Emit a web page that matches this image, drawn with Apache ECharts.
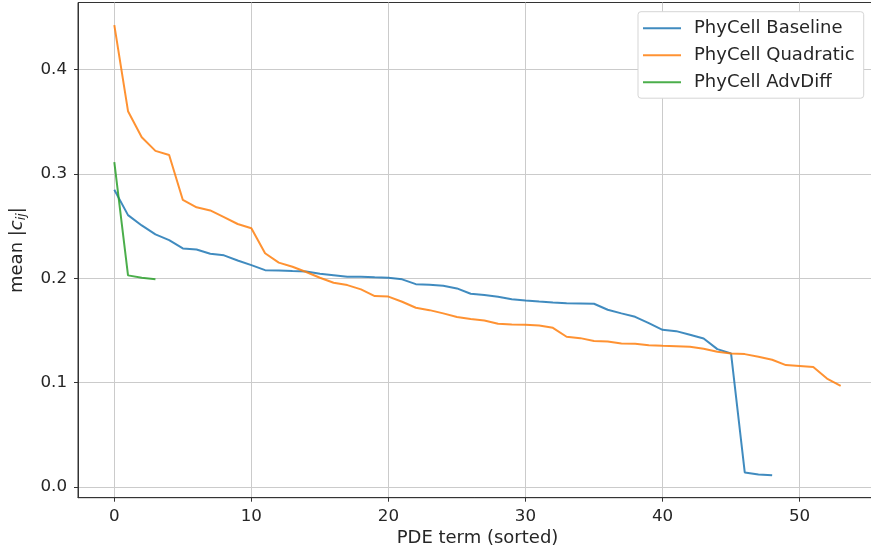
<!DOCTYPE html>
<html>
<head>
<meta charset="utf-8">
<script src="https://cdn.jsdelivr.net/npm/echarts@6/dist/echarts.min.js"></script>
<style>
html,body{margin:0;padding:0;background:#fff;}
#c{width:871px;height:554px;}
</style>
</head>
<body>
<div id="c"></div>
<script>
var seriesNames = ['PhyCell Baseline', 'PhyCell Quadratic', 'PhyCell AdvDiff'];
var baseline = [0.2848,0.2605,0.2506,0.242,0.2366,0.2286,0.2276,0.2235,0.222,0.2171,
  0.2126,0.2078,0.2075,0.207,0.2066,0.2043,0.203,0.2014,0.2014,0.2009,
  0.2005,0.199,0.1944,0.1938,0.1928,0.1903,0.1852,0.1839,0.1823,0.18,
  0.1788,0.1778,0.1769,0.1762,0.1759,0.1756,0.1699,0.1664,0.1631,0.1571,
  0.1507,0.1494,0.1459,0.1424,0.1322,0.128,0.0141,0.0122,0.0115];
var quadratic = [0.4425,0.360,0.335,0.322,0.318,0.275,0.268,0.265,0.2586,0.252,
  0.248,0.224,0.215,0.211,0.206,0.2005,0.1957,0.1935,0.1894,0.183,
  0.1825,0.1775,0.1718,0.1695,0.1664,0.163,0.161,0.1596,0.1565,0.1558,
  0.1555,0.1549,0.1526,0.144,0.1427,0.140,0.1395,0.1376,0.1373,0.136,
  0.1353,0.135,0.1344,0.1325,0.1296,0.128,0.1274,0.1248,0.122,0.1169,
  0.116,0.115,0.104,0.097];
var advdiff = [0.3113,0.2028,0.2005,0.1992];
var xTicks = [0, 10, 20, 30, 40, 50];
var yTicks = [0.0, 0.1, 0.2, 0.3, 0.4];
var colors = ['#1f77b4', '#ff7f0e', '#2ca02c'];

function pairs(arr){ return arr.map(function(v,i){ return [i, v]; }); }

var FONT = 'DejaVu Sans';
var TXT = '#262626';
var chart = echarts.init(document.getElementById('c'), null, {renderer:'canvas'});
var seriesData = [baseline, quadratic, advdiff];
var option = {
  animation: false,
  backgroundColor: '#ffffff',
  textStyle: {fontFamily: FONT},
  grid: {left: 78, top: 2.5, width: 799, height: 495.2, containLabel: false,
    outerBoundsMode: 'none',
    show: true, borderColor: '#333', borderWidth: 1, backgroundColor: 'transparent'},
  legend: {
    orient: 'vertical',
    left: 638, top: 11.7,
    data: seriesNames,
    icon: 'path://M0,0H38V2H0Z',
    symbolKeepAspect: true,
    itemWidth: 38, itemHeight: 14, itemGap: 9,
    padding: [7.5, 9, 7, 5],
    backgroundColor: '#ffffff',
    borderColor: '#d5d5d5', borderWidth: 1, borderRadius: 3,
    textStyle: {fontFamily: FONT, fontSize: 18, lineHeight: 18, color: TXT, padding: [0,0,0,8]}
  },
  xAxis: {
    type: 'value', min: -2.65, max: 55.65,
    name: 'PDE term (sorted)', nameLocation: 'middle', nameGap: 30,
    nameTextStyle: {fontFamily: FONT, fontSize: 18, color: TXT},
    axisLine: {show: true, onZero: false, lineStyle: {color: '#333', width: 1}},
    axisTick: {show: true, length: 4, customValues: xTicks, lineStyle: {color: '#333'}},
    axisLabel: {customValues: xTicks, fontFamily: FONT, fontSize: 16.7, color: TXT, margin: 10,
      formatter: function(v){ return String(v); }},
    splitLine: {show: true, lineStyle: {color: '#cbcbcb', width: 1}}
  },
  yAxis: {
    type: 'value', min: -0.0101, max: 0.4641,
    name: '{n|mean }{n||}{i|c}{s|ij}{n||}', nameLocation: 'middle', nameGap: 50,
    nameTextStyle: {
      fontFamily: FONT, fontSize: 18, color: TXT,
      rich: {
        n: {fontFamily: FONT, fontSize: 18, color: TXT, lineHeight: 22},
        i: {fontFamily: FONT, fontSize: 18, fontStyle: 'italic', color: TXT, lineHeight: 22},
        s: {fontFamily: FONT, fontSize: 12.6, fontStyle: 'italic', color: TXT, lineHeight: 12, verticalAlign: 'bottom'}
      }
    },
    axisLine: {show: true, onZero: false, lineStyle: {color: '#333', width: 1}},
    axisTick: {show: true, length: 4, customValues: yTicks, lineStyle: {color: '#333'}},
    axisLabel: {customValues: yTicks, fontFamily: FONT, fontSize: 16.7, color: TXT, margin: 11,
      formatter: function(v){ return v.toFixed(1); }},
    splitLine: {show: true, lineStyle: {color: '#cbcbcb', width: 1}}
  },
  series: seriesNames.map(function(n, k){
    return {
      name: n, type: 'line', data: pairs(seriesData[k]),
      symbol: 'none', showSymbol: false, smooth: false,
      color: colors[k],
      lineStyle: {color: colors[k], width: 2, opacity: 0.85},
      itemStyle: {color: colors[k], opacity: 0.85}
    };
  })
};
chart.setOption(option);
</script>
</body>
</html>
